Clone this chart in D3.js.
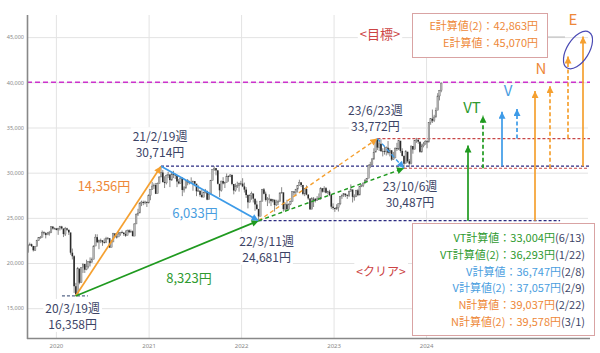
<!DOCTYPE html>
<html>
<head>
<meta charset="utf-8">
<script src="https://cdn.jsdelivr.net/npm/d3@7"></script>
<style>
  body { margin: 0; background: #fff; }
  svg { display: block; font-family: "Noto Sans CJK JP", "Noto Sans", sans-serif; }
</style>
</head>
<body>
<div id="chart"></div>
<script>
// weekly candles, one per week (Friday dates), first week 2019-09-13
const firstWeek = "2019-09-13";
const firstOpen = 21199;
const closes = [
  21988,22079,21878,21410,21799,22492,22799,22851,23391,23303,23112,23293,23354,24023,23816,23837,
  23656,23850,24041,23827,23205,23827,23687,23386,21142,20749,17431,16552,19389,17820,19498,19897,19262,19619,20179,20037,20388,21877,22863,22305,22478,22512,22306,22290,22696,22751,21710,22329,23289,22920,22882,23205,23406,23360,23204,23029,23619,23410,23516,22977,24325,25385,25527,26644,26751,26652,26763,26656,
  27444,28139,28519,28631,27663,28779,29520,30018,28966,28864,29717,29792,29176,29854,29768,29683,29020,28812,29357,28084,28317,29149,28941,28948,28964,29066,28783,27940,28003,27548,27283,27820,27977,27013,27641,29128,30381,30500,30249,28771,28049,29069,28805,28893,29612,29610,29746,28752,28030,28438,28546,28782,28792,
  28479,28124,27523,26717,27440,27697,27122,26477,25985,25163,26827,28150,27666,26985,27093,27105,26848,27003,26427,26739,26781,27761,27824,25963,26491,25935,26517,26788,27914,27801,28175,28546,28930,28641,27650,28214,27567,27153,25937,27116,27090,26890,27105,27199,28263,27899,28283,27777,27901,27527,26235,26094,
  25973,26119,26553,27382,27509,27670,27513,27453,27927,28143,27333,27385,28041,27518,28493,28564,28856,29157,29388,30808,30916,31524,32265,33706,32781,33189,32388,32391,32304,32759,32192,32473,31450,31624,32710,32606,33533,32402,31857,30994,32315,31259,30991,32949,32568,33585,33625,33431,32307,32970,33169,33464,
  33377,35577,35963,35751,36158,36897,38487,39098,39910
];
const highs = [
  22019,22255,22150,21900,21840,22570,22870,22990,23592,23500,23420,23440,23550,24050,24091,23930,
  23800,23903,24115,24115,23600,23995,23900,23600,23100,21600,20850,17800,19564,19160,19500,19922,19700,20366,20200,20620,20600,21960,23185,23179,22600,22700,22500,22720,22900,22880,22750,22564,23338,23100,23300,23580,23450,23590,23400,23600,23700,23725,23700,23600,24400,25500,26000,26706,26900,26900,26900,26800,
  27602,28139,28979,28820,28860,28900,29600,30714,30300,29600,29800,30100,29800,30100,30200,29900,29700,29300,29400,29500,28500,29200,29300,29100,29480,29100,29000,28700,28600,27700,28100,27900,28200,28000,27800,29200,30400,30700,30500,30300,28600,29100,29500,29000,29900,29700,29850,29800,28600,28800,29000,28900,29100,
  29388,28900,28400,27600,27600,27900,27400,26900,26900,25700,26900,28200,28300,27900,27300,27600,27000,27100,27000,27000,27000,27800,28389,27500,26700,27000,26600,26900,27950,27900,28200,28600,29222,28900,28300,28300,28600,27600,26900,27300,27300,27200,27400,27700,28400,28300,28500,28400,28000,28100,27600,26600,
  26100,26500,26600,27400,27600,27700,27700,27600,28000,28700,28000,27600,28100,28200,28500,28700,28900,29300,29400,30900,31200,31600,32700,33706,33772,33500,33700,32700,32900,32900,33500,32700,32500,32300,32800,33300,33600,33300,32700,31900,32500,32300,31500,33000,32900,33600,33850,33700,33400,33200,33400,33600,
  33600,35600,36000,36984,36400,37200,38800,39156,39990
];
const lows = [
  21317,21900,21770,21276,21330,21900,22440,22700,22900,23140,22726,23100,23030,23310,23700,23740,
  23620,23115,23600,23700,22871,22990,23550,23100,20916,20400,16690,16358,16890,17646,17800,18900,18900,19200,19400,19620,20100,20700,21900,22200,21530,22200,21900,22150,22200,22600,21700,21800,22400,22800,22700,22900,23000,23300,23000,22900,23200,23300,23400,22950,23000,24400,25200,25600,26300,26400,26500,26200,
  26600,26950,28100,28200,27630,27800,28900,29900,28900,28300,28700,29400,28400,29100,29400,29300,28400,28700,28800,27400,27800,28200,28600,28700,28800,28000,28500,27400,27900,27330,27250,27300,27700,26954,27000,27700,29200,30200,29700,28700,27293,27900,28700,28300,28900,29000,29500,28600,27600,27900,28300,27900,28600,
  28400,27800,27200,26044,26800,27000,26700,25775,25900,24681,25300,26900,27600,26800,26300,26600,26300,26700,25688,26300,26400,26800,27700,25700,25800,25900,25900,26400,26800,27500,27400,27800,28600,28400,27500,27400,27500,27000,25900,26000,26200,26700,26900,27000,27000,27800,27800,27700,27600,27400,26000,25900,
  25661,25900,25700,26400,27100,27300,27300,27100,27300,27900,26700,26900,27300,27400,27600,28400,28400,28800,28900,29600,30500,30800,31400,32300,32500,32400,32300,31800,32000,31900,32000,31800,31300,31400,31800,32400,32500,32200,31800,30487,31100,31100,30550,30900,32100,32700,33300,33200,32200,32200,32800,33100,
  32700,33600,35300,35500,35600,36100,37000,38000,38900
];

// axis ticks
const priceTicks = [15000, 20000, 25000, 30000, 35000, 40000, 45000];
const yearTicks = ["2020", "2021", "2022", "2023", "2024"];
const goalLevel = 40000;

// turning points
const pivotDates = ["2020-03-19", "2021-02-19", "2022-03-11", "2023-06-23", "2023-10-06"];
const pivotValues = [16358, 30714, 24681, 33772, 30487];
const pivotNames = ["20/3/19週", "21/2/19週", "22/3/11週", "23/6/23週", "23/10/6週"];

// arrows between turning points
const trendFrom = [0, 0, 1, 2, 2, 3];
const trendTo   = [1, 2, 2, 3, 4, 4];

// horizontal reference lines
const refLevels = [16358, 30714, 24681, 33772, 30487];
const refStart  = ["2020-01-25", "2021-02-19", "2022-03-11", "2023-06-23", "2023-10-06"];
const refEnd    = ["2020-05-06", "2025-10-09", "2025-06-13", "2025-10-09", "2025-10-01"];

// calculated targets
const calcNames   = ["VT", "VT", "V", "V", "N", "N", "E", "E"];
const calcBases   = [24681, 30487, 30714, 33772, 24681, 30487, 30714, 33772];
const calcTargets = [33004, 36293, 36747, 37057, 39037, 39578, 45070, 42863];
const calcSecond  = [false, true, false, true, false, true, false, true];
const calcReached = ["6/13", "1/22", "2/8", "2/9", "2/22", "3/1", "", ""];

// ---- style / layout ----
const C = {
  orange: "#f5a030", green: "#1f9a1f", blue: "#3d9be8",
  navy: "#2a2a80", red: "#c84848", magenta: "#cc33cc",
  orangeText: "#ee8838", greenText: "#2f9a2f", blueText: "#4a9ee0",
  navyText: "#3c4466", redText: "#cc4444", box: "#d9a3a3"
};
const familyColor = { VT: "green", V: "blue", N: "orange", E: "orange" };
const trendStyle = [
  { color: C.orange, dash: null }, { color: C.green, dash: null }, { color: C.blue, dash: null },
  { color: C.orange, dash: "4,3" }, { color: C.green, dash: "4,3" }, { color: C.blue, dash: "4,3" }
];
const refStyle = [
  { color: "#556688", dash: "3,2" }, { color: C.navy, dash: "3,2" }, { color: C.navy, dash: "3,2" },
  { color: C.red, dash: "3,2" }, { color: C.red, dash: "3,2" }
];
const calcX = [468, 483, 502, 517, 535, 550, 583, 568];
const pivotLabelOffset = [[-3, 17], [-1, -25], [8, 25], [-2, -24], [6, 23]];

const W = 600, H = 353;
const parse = d3.utcParse("%Y-%m-%d");
const fmt = d3.format(",");

const svg = d3.select("#chart").append("svg").attr("width", W).attr("height", H);

const x = d3.scaleUtc()
  .domain([parse("2019-09-09"), parse("2025-10-09")])
  .range([27, 590]);
const y = d3.scaleLinear()
  .domain([11700, 47450])
  .range([338, 15]);

// arrow markers
const defs = svg.append("defs");
[["orange", C.orange], ["green", C.green], ["blue", C.blue]].forEach(([k, col]) => {
  defs.append("marker")
    .attr("id", "arr-" + k)
    .attr("viewBox", "0 0 10 10")
    .attr("refX", 10).attr("refY", 5)
    .attr("markerWidth", 8).attr("markerHeight", 7)
    .attr("markerUnits", "userSpaceOnUse")
    .attr("orient", "auto")
    .append("path").attr("d", "M0,0 L10,5 L0,10 z").attr("fill", col);
});
const markerFor = col => col === C.orange ? "url(#arr-orange)" : col === C.green ? "url(#arr-green)" : "url(#arr-blue)";

// grid + tick labels
svg.append("g")
  .attr("transform", "translate(27,0)")
  .call(d3.axisLeft(y).tickValues(priceTicks).tickSize(-561).tickPadding(3).tickFormat(fmt))
  .call(g => g.select(".domain").remove())
  .call(g => g.selectAll(".tick line").attr("stroke", "#e3e3e3"))
  .call(g => g.selectAll(".tick text").attr("fill", "#888").attr("font-size", 5.5)
    .attr("font-family", "Noto Sans, sans-serif"));

svg.append("g")
  .attr("transform", "translate(0,338)")
  .call(d3.axisBottom(x).tickValues(yearTicks.map(d => parse(d + "-01-01"))).tickSize(-323).tickPadding(6)
    .tickFormat(d3.utcFormat("%Y")))
  .call(g => g.select(".domain").remove())
  .call(g => g.selectAll(".tick line").attr("stroke", "#e3e3e3"))
  .call(g => g.selectAll(".tick text").attr("fill", "#888").attr("font-size", 6)
    .attr("font-family", "Noto Sans, sans-serif"));

// goal line 40,000
svg.append("line")
  .attr("x1", 27).attr("x2", 590)
  .attr("y1", y(goalLevel)).attr("y2", y(goalLevel))
  .attr("stroke", C.magenta).attr("stroke-width", 1.5).attr("stroke-dasharray", "5,3");

// horizontal reference lines
svg.append("g").selectAll("line")
  .data(refLevels)
  .join("line")
  .attr("x1", (d, i) => x(parse(refStart[i])))
  .attr("x2", (d, i) => x(parse(refEnd[i])))
  .attr("y1", d => y(d)).attr("y2", d => y(d))
  .attr("stroke", (d, i) => refStyle[i].color)
  .attr("stroke-width", 1.2)
  .attr("stroke-dasharray", (d, i) => refStyle[i].dash);

// candles
const start = parse(firstWeek);
const candles = closes.map((c, i) => ({
  date: d3.utcDay.offset(start, 7 * i),
  open: i ? closes[i - 1] : firstOpen,
  high: highs[i], low: lows[i], close: c
}));
const cg = svg.append("g");
cg.selectAll("line")
  .data(candles)
  .join("line")
  .attr("x1", d => x(d.date)).attr("x2", d => x(d.date))
  .attr("y1", d => y(d.high)).attr("y2", d => y(d.low))
  .attr("stroke", "#555").attr("stroke-width", 0.7);
cg.selectAll("rect")
  .data(candles)
  .join("rect")
  .attr("x", d => x(d.date) - 0.8)
  .attr("width", 1.6)
  .attr("y", d => y(Math.max(d.open, d.close)))
  .attr("height", d => Math.max(0.8, Math.abs(y(d.open) - y(d.close))))
  .attr("fill", d => d.close >= d.open ? "#b8b8b8" : "#2a2a2a")
  .attr("stroke", d => d.close >= d.open ? "#666" : "none")
  .attr("stroke-width", 0.4);

// trend arrows
const px = i => x(parse(pivotDates[i]));
const py = i => y(pivotValues[i]);
svg.append("g").selectAll("line")
  .data(trendFrom)
  .join("line")
  .attr("x1", d => px(d)).attr("y1", d => py(d))
  .attr("x2", (d, i) => px(trendTo[i])).attr("y2", (d, i) => py(trendTo[i]))
  .attr("stroke", (d, i) => trendStyle[i].color)
  .attr("stroke-width", (d, i) => trendStyle[i].dash ? 1.4 : 1.7)
  .attr("stroke-dasharray", (d, i) => trendStyle[i].dash)
  .attr("marker-end", (d, i) => markerFor(trendStyle[i].color));

// text with white background
function label(txt, cx, by, color, size, anchor) {
  const g = svg.append("g");
  const bg = g.append("rect").attr("fill", "#fff");
  const t = g.append("text")
    .attr("x", cx).attr("y", by)
    .attr("text-anchor", anchor || "middle")
    .attr("font-size", size)
    .attr("fill", color)
    .text(txt);
  const b = t.node().getBBox();
  bg.attr("x", b.x - 2).attr("y", b.y).attr("width", b.width + 4).attr("height", b.height);
  return t;
}

// turning point labels
pivotNames.forEach((nm, i) => {
  const [dx, dy] = pivotLabelOffset[i];
  const cx = px(i) + dx, cy = py(i) + dy;
  label(nm, cx, cy, C.navyText, 12);
  label(fmt(pivotValues[i]) + "円", cx, cy + 16, C.navyText, 12);
});

// swing sizes
label(fmt(pivotValues[1] - pivotValues[0]) + "円", 104, 191, C.orangeText, 13);
label(fmt(pivotValues[1] - pivotValues[2]) + "円", 195, 218, C.blueText, 13);
label(fmt(pivotValues[2] - pivotValues[0]) + "円", 189, 283, C.greenText, 13);

// goal / clear tags
label("<目標>", 380, 39, C.redText, 13);
label("<クリア>", 381, 276, C.redText, 12);

// vertical target arrows
const colOf = n => C[familyColor[n]];
svg.append("g").selectAll("line")
  .data(calcTargets)
  .join("line")
  .attr("x1", (d, i) => calcX[i]).attr("x2", (d, i) => calcX[i])
  .attr("y1", (d, i) => y(calcBases[i])).attr("y2", d => y(d))
  .attr("stroke", (d, i) => colOf(calcNames[i]))
  .attr("stroke-width", 1.7)
  .attr("stroke-dasharray", (d, i) => calcSecond[i] ? "4,2.5" : null)
  .attr("marker-end", (d, i) => markerFor(colOf(calcNames[i])));

// family letters above the arrows
const famLabels = [["VT", 472, 113], ["V", 508, 96], ["N", 541, 74], ["E", 573, 25]];
famLabels.forEach(([n, lx, ly]) => {
  svg.append("text").attr("x", lx).attr("y", ly).attr("text-anchor", "middle")
    .attr("font-size", 15).attr("fill", C[familyColor[n] + "Text"]).text(n);
});

// ellipse around E targets
svg.append("ellipse")
  .attr("cx", 578).attr("cy", 50).attr("rx", 11).attr("ry", 21)
  .attr("transform", "rotate(32,578,50)")
  .attr("fill", "none").attr("stroke", "#4a4ab4").attr("stroke-width", 1.2);

// E box
svg.append("line").attr("x1", 547).attr("x2", 565).attr("y1", 37).attr("y2", 37)
  .attr("stroke", "#aaa").attr("stroke-width", 0.8);
svg.append("rect").attr("x", 412.5).attr("y", 13.5).attr("width", 135).attr("height", 44)
  .attr("fill", "#fff").attr("stroke", C.box);
[7, 6].forEach((i, k) => {
  const nm = "E計算値" + (calcSecond[i] ? "(2)" : "") + "：" + fmt(calcTargets[i]) + "円";
  svg.append("text").attr("x", 538).attr("y", 30 + k * 17).attr("text-anchor", "end")
    .attr("font-size", 11).attr("fill", C.orangeText).text(nm);
});

// VT / V / N box
svg.append("rect").attr("x", 412.5).attr("y", 223.5).attr("width", 182).attr("height", 112)
  .attr("fill", "#fff").attr("stroke", C.box);
d3.range(6).forEach(i => {
  const t = svg.append("text").attr("x", 585).attr("y", 242 + i * 16.8).attr("text-anchor", "end")
    .attr("font-size", 11);
  t.append("tspan").attr("fill", C[familyColor[calcNames[i]] + "Text"])
    .text(calcNames[i] + "計算値" + (calcSecond[i] ? "(2)" : "") + "：" + fmt(calcTargets[i]) + "円");
  t.append("tspan").attr("fill", C.navyText).text("(" + calcReached[i] + ")");
});

// axis lines
svg.append("line").attr("x1", 27.5).attr("x2", 27.5).attr("y1", 15).attr("y2", 339)
  .attr("stroke", "#888").attr("stroke-width", 1.6);
svg.append("line").attr("x1", 27).attr("x2", 590).attr("y1", 338.5).attr("y2", 338.5)
  .attr("stroke", "#888").attr("stroke-width", 1.6);
</script>
</body>
</html>
